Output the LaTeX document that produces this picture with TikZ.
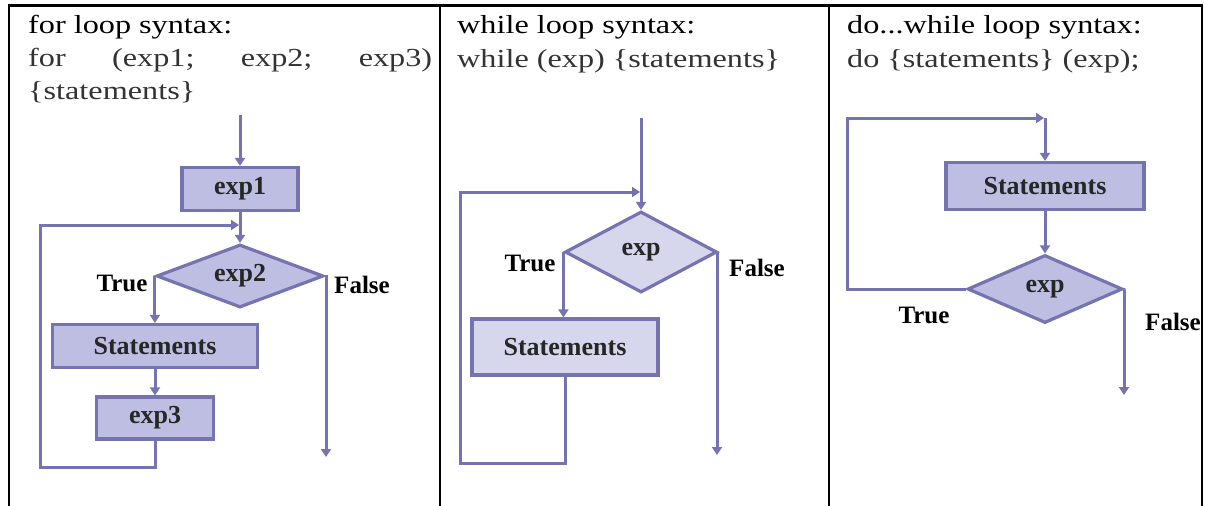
\documentclass[tikz,border=0pt]{standalone}
\usepackage{fontspec}
\setmainfont{Liberation Serif}
\newfontfamily\headfont[FakeStretch=1.24]{Liberation Serif}
\usetikzlibrary{arrows.meta, shapes.geometric, calc}
\definecolor{loop-line}{RGB}{118,116,176}
\definecolor{loop-fill}{RGB}{190,190,226}
\definecolor{loop-pale}{RGB}{214,214,236}

\tikzset{
  flow/.style={line width=3pt, loop-line, -{Triangle[width=10pt,length=8pt]}},
  procbox/.style={draw=loop-line, fill=loop-fill, line width=3.2pt, inner sep=0pt,
    font=\fontsize{26}{28}\selectfont\bfseries, text=black!85},
  decision/.style={diamond, aspect=2, draw=loop-line, fill=loop-fill, line width=3.2pt,
    inner sep=0pt, font=\fontsize{26}{28}\selectfont\bfseries, text=black!85},
  branch/.style={inner sep=0pt, font=\fontsize{25}{27}\selectfont\bfseries},
  heading/.style={anchor=base west, inner sep=0pt, font=\headfont\fontsize{26}{33}\selectfont},
  cellrule/.style={line width=2pt, black}
}

\begin{document}
\begin{tikzpicture}[x=1pt, y=-1pt]
	\useasboundingbox[fill=white] (0,0) rectangle (1205,506);
	
	\draw[cellrule, line width=3pt] (8,5) -- (1203,5);
	\foreach \xr in {9, 440, 829, 1202}
		\draw[cellrule] (\xr,5) -- (\xr,506);
	
	\node[heading] (forTitle) at (28,33) {for loop syntax:};
	\node[heading, text=black!80, text width=404pt] (forSyntax) at (28,66) {for\hfill(exp1;\hfill exp2;\hfill exp3)};
	\node[heading, text=black!80] (forBody) at (28,99) {\{statements\}};
	
	\node[heading] (whileTitle) at (457,33) {while loop syntax:};
	\node[heading, text=black!80] (whileSyntax) at (457,67) {while (exp) \{statements\}};
	
	\node[heading] (doTitle) at (847,33) {do...while loop syntax:};
	\node[heading, text=black!80] (doSyntax) at (847,67) {do \{statements\} (exp);};
	
	\node[procbox, minimum width=116pt, minimum height=43pt] at (240,189) (exp1) {exp1};
	\node[decision, minimum width=167pt, minimum height=63pt] at (240,276) (exp2) {exp2};
	\node[procbox, minimum width=205pt, minimum height=43pt] at (155,346) (stmtA) {Statements};
	\node[procbox, minimum width=117pt, minimum height=42pt] at (155,418) (exp3) {exp3};
	\node[branch] at (122,283) (forTrue) {True};
	\node[branch] at (362,285) (forFalse) {False};
	\coordinate (forIn) at (240,115);
	\coordinate (forLow) at (40,467);
	\coordinate (forBack) at (239,225);
	\coordinate (forOut) at (326,457);
	
	\draw[flow] (forIn) -- (exp1);
	\draw[flow] (exp1) -- (exp2);
	\draw[flow] (exp2.west) -- (exp2.west |- stmtA.north);
	\draw[flow] (stmtA) -- (exp3);
	\draw[flow] (exp3.south) |- (forLow) |- (forBack);
	\draw[flow] (exp2.east) -| (forOut);
	
	\node[decision, fill=loop-pale, minimum width=152pt, minimum height=81pt] at (641,252) (expB) {exp};
	\node[procbox, fill=loop-pale, minimum width=186pt, minimum height=56pt] at (565,347) (stmtB) {Statements};
	\node[branch] at (530,263) (whileTrue) {True};
	\node[branch] at (757,268) (whileFalse) {False};
	\coordinate (whileIn) at (641,118);
	\coordinate (whileLow) at (460,463);
	\coordinate (whileBack) at (640,192);
	\coordinate (whileOut) at (717,455);
	
	\draw[flow] (whileIn) -- (expB);
	\draw[flow] (expB.west) -- (expB.west |- stmtB.north);
	\draw[flow] (stmtB.south) |- (whileLow) |- (whileBack);
	\draw[flow] (expB.east) -| (whileOut);
	
	\node[procbox, minimum width=198pt, minimum height=47pt] at (1045,186) (stmtC) {Statements};
	\node[decision, minimum width=155pt, minimum height=68pt] at (1045,289) (expC) {exp};
	\node[branch] at (924,315) (doTrue) {True};
	\node[branch] at (1173,322) (doFalse) {False};
	\coordinate (doCorner) at (847,118);
	\coordinate (doBack) at (1044,118);
	\coordinate (doOut) at (1124,395);
	
	\draw[flow] (expC.west) -| (doCorner) -- (doBack);
	\draw[flow] (stmtC.north |- doBack) -- (stmtC.north);
	\draw[flow] (stmtC) -- (expC);
	\draw[flow] (expC.east) -| (doOut);
\end{tikzpicture}
\end{document}
